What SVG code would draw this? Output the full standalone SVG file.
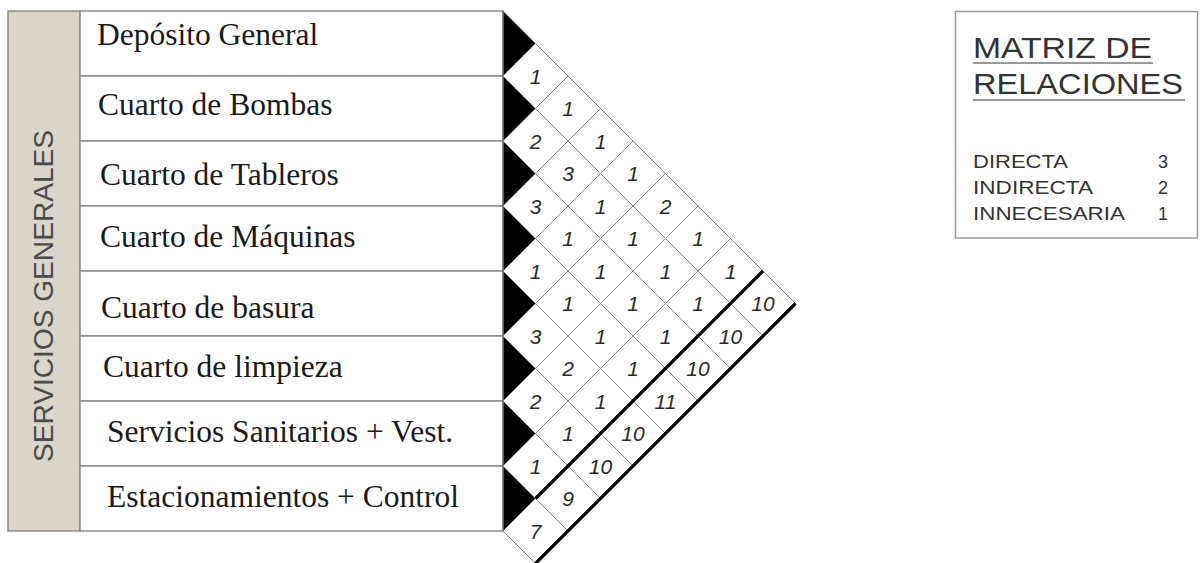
<svg xmlns="http://www.w3.org/2000/svg" xmlns:xlink="http://www.w3.org/1999/xlink" width="1200" height="563" viewBox="0 0 1200 563">
<style>
.row{fill:#ffffff;stroke:#8c8c8c;stroke-width:1.5}
.lbl{font-family:"Liberation Serif","Times New Roman",serif;font-size:31.5px;fill:#1a1a1a}
.cell{fill:#ffffff;stroke:#8a8a8a;stroke-width:1}
.tri{fill:#000000}
.num{font-family:"Liberation Sans",Arial,sans-serif;font-style:italic;font-size:21px;fill:#2a2a2a;text-anchor:middle}
.thick{stroke:#000000;stroke-width:3.2;fill:none;stroke-linecap:butt}
.lg{font-family:"Liberation Sans",Arial,sans-serif;fill:#333333}
</style>
<defs>
<polygon id="d" points="-32.5,0 0,-32.5 32.5,0 0,32.5"/>
</defs>
<rect width="1200" height="563" fill="#ffffff"/>

<g id="band">
<rect x="8" y="11" width="72" height="520" fill="#dbd6cb" stroke="#8c8c8c" stroke-width="1.5"/>
<text transform="translate(53,296) rotate(-90)" text-anchor="middle" font-family="'Liberation Sans',Arial,sans-serif" font-size="28" fill="#4a4a4a" textLength="332" lengthAdjust="spacingAndGlyphs">SERVICIOS GENERALES</text>
</g>

<g id="row1"><rect class="row" x="80" y="11" width="423" height="65"/><text class="lbl" x="97" y="45">Depósito General</text></g>
<g id="row2"><rect class="row" x="80" y="76" width="423" height="65"/><text class="lbl" x="98" y="115">Cuarto de Bombas</text></g>
<g id="row3"><rect class="row" x="80" y="141" width="423" height="65"/><text class="lbl" x="100" y="185">Cuarto de Tableros</text></g>
<g id="row4"><rect class="row" x="80" y="206" width="423" height="65"/><text class="lbl" x="100" y="247">Cuarto de Máquinas</text></g>
<g id="row5"><rect class="row" x="80" y="271" width="423" height="65"/><text class="lbl" x="101" y="318">Cuarto de basura</text></g>
<g id="row6"><rect class="row" x="80" y="336" width="423" height="65"/><text class="lbl" x="103" y="377">Cuarto de limpieza</text></g>
<g id="row7"><rect class="row" x="80" y="401" width="423" height="65"/><text class="lbl" x="107" y="442">Servicios Sanitarios + Vest.</text></g>
<g id="row8"><rect class="row" x="80" y="466" width="423" height="65"/><text class="lbl" x="107" y="507">Estacionamientos + Control</text></g>

<g id="triangles">
<polygon class="tri" points="503,11 535.5,43.5 503,76"/>
<polygon class="tri" points="503,76 535.5,108.5 503,141"/>
<polygon class="tri" points="503,141 535.5,173.5 503,206"/>
<polygon class="tri" points="503,206 535.5,238.5 503,271"/>
<polygon class="tri" points="503,271 535.5,303.5 503,336"/>
<polygon class="tri" points="503,336 535.5,368.5 503,401"/>
<polygon class="tri" points="503,401 535.5,433.5 503,466"/>
<polygon class="tri" points="503,466 535.5,498.5 503,531"/>
</g>

<g id="matrix">
<use xlink:href="#d" href="#d" class="cell" x="535.5" y="76"/><text class="num" x="535.5" y="83.5">1</text>
<use xlink:href="#d" href="#d" class="cell" x="535.5" y="141"/><text class="num" x="535.5" y="148.5">2</text>
<use xlink:href="#d" href="#d" class="cell" x="535.5" y="206"/><text class="num" x="535.5" y="213.5">3</text>
<use xlink:href="#d" href="#d" class="cell" x="535.5" y="271"/><text class="num" x="535.5" y="278.5">1</text>
<use xlink:href="#d" href="#d" class="cell" x="535.5" y="336"/><text class="num" x="535.5" y="343.5">3</text>
<use xlink:href="#d" href="#d" class="cell" x="535.5" y="401"/><text class="num" x="535.5" y="408.5">2</text>
<use xlink:href="#d" href="#d" class="cell" x="535.5" y="466"/><text class="num" x="535.5" y="473.5">1</text>

<use xlink:href="#d" href="#d" class="cell" x="568" y="108.5"/><text class="num" x="568" y="116">1</text>
<use xlink:href="#d" href="#d" class="cell" x="568" y="173.5"/><text class="num" x="568" y="181">3</text>
<use xlink:href="#d" href="#d" class="cell" x="568" y="238.5"/><text class="num" x="568" y="246">1</text>
<use xlink:href="#d" href="#d" class="cell" x="568" y="303.5"/><text class="num" x="568" y="311">1</text>
<use xlink:href="#d" href="#d" class="cell" x="568" y="368.5"/><text class="num" x="568" y="376">2</text>
<use xlink:href="#d" href="#d" class="cell" x="568" y="433.5"/><text class="num" x="568" y="441">1</text>

<use xlink:href="#d" href="#d" class="cell" x="600.5" y="141"/><text class="num" x="600.5" y="148.5">1</text>
<use xlink:href="#d" href="#d" class="cell" x="600.5" y="206"/><text class="num" x="600.5" y="213.5">1</text>
<use xlink:href="#d" href="#d" class="cell" x="600.5" y="271"/><text class="num" x="600.5" y="278.5">1</text>
<use xlink:href="#d" href="#d" class="cell" x="600.5" y="336"/><text class="num" x="600.5" y="343.5">1</text>
<use xlink:href="#d" href="#d" class="cell" x="600.5" y="401"/><text class="num" x="600.5" y="408.5">1</text>

<use xlink:href="#d" href="#d" class="cell" x="633" y="173.5"/><text class="num" x="633" y="181">1</text>
<use xlink:href="#d" href="#d" class="cell" x="633" y="238.5"/><text class="num" x="633" y="246">1</text>
<use xlink:href="#d" href="#d" class="cell" x="633" y="303.5"/><text class="num" x="633" y="311">1</text>
<use xlink:href="#d" href="#d" class="cell" x="633" y="368.5"/><text class="num" x="633" y="376">1</text>

<use xlink:href="#d" href="#d" class="cell" x="665.5" y="206"/><text class="num" x="665.5" y="213.5">2</text>
<use xlink:href="#d" href="#d" class="cell" x="665.5" y="271"/><text class="num" x="665.5" y="278.5">1</text>
<use xlink:href="#d" href="#d" class="cell" x="665.5" y="336"/><text class="num" x="665.5" y="343.5">1</text>

<use xlink:href="#d" href="#d" class="cell" x="698" y="238.5"/><text class="num" x="698" y="246">1</text>
<use xlink:href="#d" href="#d" class="cell" x="698" y="303.5"/><text class="num" x="698" y="311">1</text>

<use xlink:href="#d" href="#d" class="cell" x="730.5" y="271"/><text class="num" x="730.5" y="278.5">1</text>
</g>

<g id="totals">
<use xlink:href="#d" href="#d" class="cell" x="763" y="303.5"/><text class="num" x="763" y="311">10</text>
<use xlink:href="#d" href="#d" class="cell" x="730.5" y="336"/><text class="num" x="730.5" y="343.5">10</text>
<use xlink:href="#d" href="#d" class="cell" x="698" y="368.5"/><text class="num" x="698" y="376">10</text>
<use xlink:href="#d" href="#d" class="cell" x="665.5" y="401"/><text class="num" x="665.5" y="408.5">11</text>
<use xlink:href="#d" href="#d" class="cell" x="633" y="433.5"/><text class="num" x="633" y="441">10</text>
<use xlink:href="#d" href="#d" class="cell" x="600.5" y="466"/><text class="num" x="600.5" y="473.5">10</text>
<use xlink:href="#d" href="#d" class="cell" x="568" y="498.5"/><text class="num" x="568" y="506">9</text>
<use xlink:href="#d" href="#d" class="cell" x="535.5" y="531"/><text class="num" x="535.5" y="538.5">7</text>
</g>

<g id="connectors">
<line x1="503" y1="11" x2="503" y2="531" stroke="#7a7a7a" stroke-width="1.5"/>
<line class="thick" x1="763" y1="271" x2="535.5" y2="498.5"/>
<line class="thick" x1="795.5" y1="303.5" x2="535.5" y2="563.5"/>
</g>

<g id="legend">
<rect x="955.5" y="11.5" width="242" height="226.5" fill="#ffffff" stroke="#9a9a9a" stroke-width="1.5"/>
<text class="lg" x="973" y="58" font-size="30" textLength="179" lengthAdjust="spacingAndGlyphs">MATRIZ DE</text>
<line x1="973" y1="63" x2="1153" y2="63" stroke="#777777" stroke-width="1.5"/>
<text class="lg" x="973" y="94" font-size="30" textLength="210" lengthAdjust="spacingAndGlyphs">RELACIONES</text>
<line x1="973" y1="100" x2="1185" y2="100" stroke="#777777" stroke-width="1.5"/>
<text class="lg" x="973" y="168" font-size="18" textLength="95" lengthAdjust="spacingAndGlyphs">DIRECTA</text>
<text class="lg" x="973" y="194" font-size="18" textLength="120" lengthAdjust="spacingAndGlyphs">INDIRECTA</text>
<text class="lg" x="973" y="220" font-size="18" textLength="152" lengthAdjust="spacingAndGlyphs">INNECESARIA</text>
<text class="lg" x="1163" y="168" font-size="18" text-anchor="middle">3</text>
<text class="lg" x="1163" y="194" font-size="18" text-anchor="middle">2</text>
<text class="lg" x="1163" y="220" font-size="18" text-anchor="middle">1</text>
</g>
</svg>
